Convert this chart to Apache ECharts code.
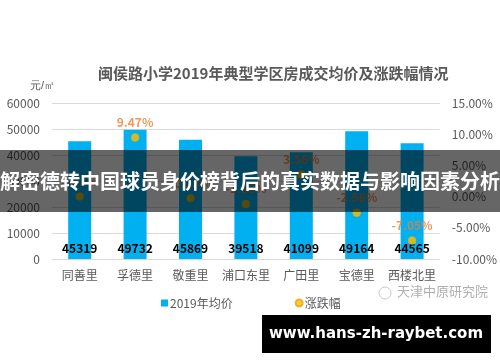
<!DOCTYPE html>
<html><head><meta charset="utf-8">
<script src="https://cdn.jsdelivr.net/npm/echarts@6/dist/echarts.min.js"></script>
<style>html,body{margin:0;padding:0;background:#fff}#c{width:500px;height:362px}</style>
</head><body><div id="c"></div>
<script>
const categories = ['同善里','孚德里','敬重里','浦口东里','广田里','宝德里','西楼北里'];
const avgPrice = [45319, 49732, 45869, 39518, 41099, 49164, 44565];
const changePct = [0.01, 9.47, -0.28, -1.18, 3.56, -2.58, -7.05];
const leftTicks = {min: 0, max: 60000, interval: 10000};
const rightTicks = {min: -10, max: 15, interval: 5};
const FONT = '"Noto Sans CJK SC", "Noto Sans", sans-serif';

const chart = echarts.init(document.getElementById('c'), null, {renderer: 'canvas'});
chart.setOption({
  animation: false,
  backgroundColor: '#ffffff',
  textStyle: {fontFamily: FONT},
  title: {
    text: '闽侯路小学2019年典型学区房成交均价及涨跌幅情况',
    left: 93, top: 61,
    textStyle: {fontSize: 15, fontWeight: 'bold', color: '#595959', fontFamily: FONT}
  },
  legend: {
    left: 156, top: 292, itemWidth: 7, itemHeight: 7, itemGap: 62,
    textStyle: {fontSize: 12, color: '#595959', fontFamily: FONT, padding: [0,0,0,-3]},
    data: [{name: '2019年均价', icon: 'rect'}, {name: '涨跌幅', icon: 'circle'}]
  },
  grid: {left: 52, right: 57, top: 103, bottom: 103},
  xAxis: {
    type: 'category', data: categories,
    axisLine: {lineStyle: {color: '#d9d9d9'}},
    axisTick: {show: false},
    axisLabel: {color: '#595959', fontSize: 12, margin: 10, interval: 0, fontFamily: FONT}
  },
  yAxis: [{
    type: 'value', min: leftTicks.min, max: leftTicks.max, interval: leftTicks.interval,
    axisLine: {show: false}, axisTick: {show: false},
    splitLine: {lineStyle: {color: '#d9d9d9'}},
    axisLabel: {color: '#595959', fontSize: 12, margin: 12, fontFamily: FONT,
      formatter: v => String(v)}
  }, {
    type: 'value', min: rightTicks.min, max: rightTicks.max, interval: rightTicks.interval,
    axisLine: {show: false}, axisTick: {show: false}, splitLine: {show: false},
    axisLabel: {color: '#595959', fontSize: 12, margin: 12, fontFamily: FONT,
      formatter: v => v.toFixed(2) + '%'}
  }],
  series: [{
    name: '2019年均价', type: 'bar', data: avgPrice, barWidth: 23,
    itemStyle: {color: '#00b0f0'},
    label: {show: true, position: 'insideBottom', distance: 5, color: '#000',
      fontWeight: 'bold', fontSize: 12, fontFamily: FONT}
  }, {
    name: '涨跌幅', type: 'scatter', yAxisIndex: 1, data: changePct,
    symbolSize: 8,
    itemStyle: {color: '#ffc000', borderColor: '#f0a000', borderWidth: 0.5},
    label: {show: true, position: 'top', distance: 5, color: '#ed7d31',
      fontWeight: 'bold', fontSize: 12, fontFamily: FONT,
      formatter: p => p.value.toFixed(2) + '%'}
  }],
  graphic: [
    {type: 'text', left: 30, top: 80, style: {text: '元/㎡', fontSize: 11, fill: '#595959', font: '11px ' + FONT}},
    {type: 'text', left: 397, top: 285, style: {text: '天津中原研究院', fill: '#b0b0b0', font: '13px ' + FONT}},
    {type: 'circle', shape: {cx: 385, cy: 293, r: 6}, style: {fill: 'none', stroke: '#c8c8c8', lineWidth: 1}},
    {type: 'rect', z: 100, shape: {x: 0, y: 150, width: 500, height: 62}, style: {fill: 'rgba(0,0,0,0.6)'}},
    {type: 'text', z: 101, x: 250, y: 181, style: {text: '解密德转中国球员身价榜背后的真实数据与影响因素分析',
      fill: '#ffffff', font: 'bold 20px ' + FONT, textAlign: 'center', textVerticalAlign: 'middle'}},
    {type: 'rect', z: 100, shape: {x: 262, y: 315, width: 229, height: 38}, style: {fill: '#000000'}},
    {type: 'text', z: 101, x: 376, y: 334, style: {text: 'www.hans-zh-raybet.com',
      fill: '#ffffff', font: 'bold 15px "DejaVu Sans", sans-serif', textAlign: 'center', textVerticalAlign: 'middle'}}
  ]
});
</script>
</body></html>
